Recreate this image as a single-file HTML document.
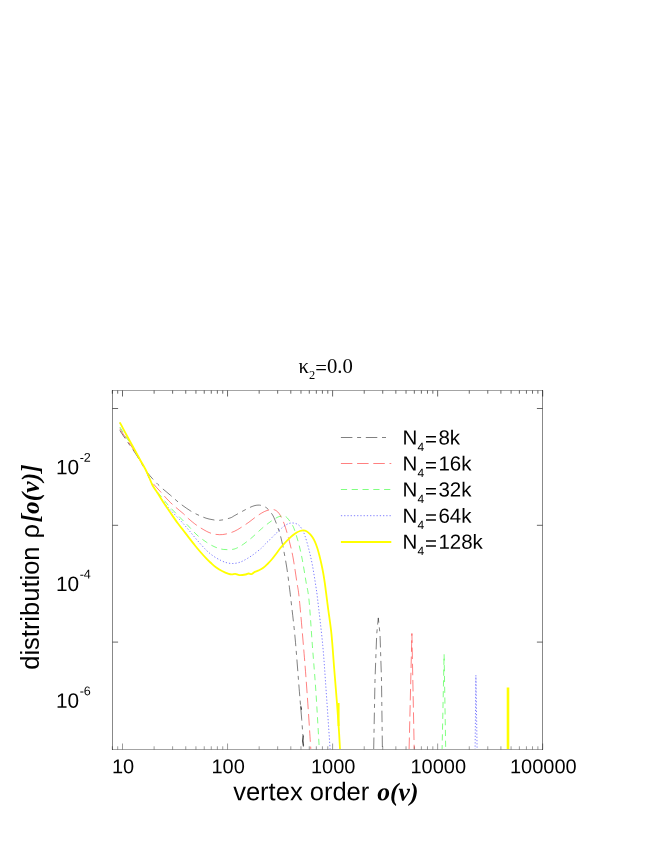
<!DOCTYPE html>
<html><head><meta charset="utf-8"><title>chart</title>
<style>
html,body{margin:0;padding:0;background:#fff;}
body{width:654px;height:846px;position:relative;overflow:hidden;font-family:"Liberation Sans",sans-serif;}
</style></head><body>
<svg width="654" height="846" viewBox="0 0 654 846" style="position:absolute;left:0;top:0">
<defs><clipPath id="cp"><rect x="112.50" y="390.50" width="430.00" height="359.00"/></clipPath></defs>
<path d="M112.32 390.50v3.20M117.69 390.50v3.20M122.50 390.50v6.00M154.12 390.50v3.20M172.62 390.50v3.20M185.75 390.50v3.20M195.93 390.50v3.20M204.24 390.50v3.20M211.28 390.50v3.20M217.37 390.50v3.20M222.74 390.50v3.20M227.55 390.50v6.00M259.17 390.50v3.20M277.67 390.50v3.20M290.80 390.50v3.20M300.98 390.50v3.20M309.29 390.50v3.20M316.33 390.50v3.20M322.42 390.50v3.20M327.79 390.50v3.20M332.60 390.50v6.00M364.22 390.50v3.20M382.72 390.50v3.20M395.85 390.50v3.20M406.03 390.50v3.20M414.34 390.50v3.20M421.38 390.50v3.20M427.47 390.50v3.20M432.84 390.50v3.20M437.65 390.50v6.00M469.27 390.50v3.20M487.77 390.50v3.20M500.90 390.50v3.20M511.08 390.50v3.20M519.39 390.50v3.20M526.43 390.50v3.20M532.52 390.50v3.20M537.89 390.50v3.20M542.70 390.50v6.00M112.50 408.50h5.6M542.50 408.50h-5.6M112.50 525.30h5.6M542.50 525.30h-5.6M112.50 642.10h5.6M542.50 642.10h-5.6" stroke="#000" stroke-width="0.6" fill="none"/>
<path d="M112.32 749.50v-3.20M117.69 749.50v-3.20M122.50 749.50v-6.00M154.12 749.50v-3.20M172.62 749.50v-3.20M185.75 749.50v-3.20M195.93 749.50v-3.20M204.24 749.50v-3.20M211.28 749.50v-3.20M217.37 749.50v-3.20M222.74 749.50v-3.20M227.55 749.50v-6.00M259.17 749.50v-3.20M277.67 749.50v-3.20M290.80 749.50v-3.20M300.98 749.50v-3.20M309.29 749.50v-3.20M316.33 749.50v-3.20M322.42 749.50v-3.20M327.79 749.50v-3.20M332.60 749.50v-6.00M364.22 749.50v-3.20M382.72 749.50v-3.20M395.85 749.50v-3.20M406.03 749.50v-3.20M414.34 749.50v-3.20M421.38 749.50v-3.20M427.47 749.50v-3.20M432.84 749.50v-3.20M437.65 749.50v-6.00M469.27 749.50v-3.20M487.77 749.50v-3.20M500.90 749.50v-3.20M511.08 749.50v-3.20M519.39 749.50v-3.20M526.43 749.50v-3.20M532.52 749.50v-3.20M537.89 749.50v-3.20M542.70 749.50v-6.00" stroke="#000" stroke-width="0.4" fill="none"/>
<path d="M112.50 390.50H542.50M112.50 749.50H542.50" stroke="#000" stroke-width="0.36" fill="none" stroke-linecap="square"/>
<path d="M112.50 390.50V749.50M542.50 390.50V749.50" stroke="#000" stroke-width="0.47" fill="none" stroke-linecap="square"/>
<g clip-path="url(#cp)" fill="none" stroke-linejoin="round">
<path d="M119.80 430.50 C120.92 432.17 124.17 437.08 126.50 440.50 C128.83 443.92 131.58 447.70 133.80 451.00 C136.02 454.30 137.65 456.85 139.80 460.30 C141.95 463.75 143.67 467.67 146.70 471.70 C149.73 475.73 154.03 480.57 158.00 484.50 C161.97 488.43 166.83 492.13 170.50 495.30 C174.17 498.47 176.63 500.88 180.00 503.50 C183.37 506.12 187.37 508.95 190.70 511.00 C194.03 513.05 196.95 514.47 200.00 515.80 C203.05 517.13 205.75 518.25 209.00 519.00 C212.25 519.75 216.00 520.47 219.50 520.30 C223.00 520.13 227.55 518.75 230.00 518.00 C232.45 517.25 232.20 516.88 234.20 515.80 C236.20 514.72 239.55 512.82 242.00 511.50 C244.45 510.18 246.90 508.85 248.90 507.90 C250.90 506.95 252.48 506.27 254.00 505.80 C255.52 505.33 256.67 505.13 258.00 505.10 C259.33 505.07 260.58 505.15 262.00 505.60 C263.42 506.05 265.17 506.82 266.50 507.80 C267.83 508.78 268.77 509.88 270.00 511.50 C271.23 513.12 272.33 514.05 273.90 517.50 C275.47 520.95 277.88 527.30 279.40 532.20 C280.92 537.10 281.78 541.08 283.00 546.90 C284.22 552.72 285.63 560.38 286.70 567.10 C287.77 573.82 288.62 581.05 289.40 587.20 C290.18 593.35 290.43 595.37 291.40 604.00 C292.37 612.63 293.87 624.38 295.20 639.00 C296.53 653.62 298.32 678.32 299.40 691.70 C300.48 705.08 300.98 710.12 301.70 719.30 C302.42 728.48 303.37 742.22 303.70 746.80" stroke="#000" stroke-width="0.50" stroke-dasharray="11.5 4.7 4 4.7" stroke-dashoffset="2"/>
<path d="M373.70 749.00 L375.00 680.00 L376.70 634.40 L378.30 617.90 L380.00 634.00 L381.50 680.00 L382.40 749.00" stroke="#000" stroke-width="0.50" stroke-dasharray="11.5 4.7 4 4.7"/>
<path d="M119.80 428.80 C120.92 430.50 124.17 435.47 126.50 439.00 C128.83 442.53 131.58 446.50 133.80 450.00 C136.02 453.50 137.80 456.62 139.80 460.00 C141.80 463.38 144.30 467.42 145.80 470.30 C147.30 473.18 147.68 475.22 148.80 477.30 C149.92 479.38 150.63 480.48 152.50 482.80 C154.37 485.12 157.30 488.20 160.00 491.20 C162.70 494.20 166.03 498.08 168.70 500.80 C171.37 503.52 173.55 505.35 176.00 507.50 C178.45 509.65 181.35 511.87 183.40 513.70 C185.45 515.53 186.03 516.53 188.30 518.50 C190.57 520.47 193.93 523.35 197.00 525.50 C200.07 527.65 204.03 530.02 206.70 531.40 C209.37 532.78 210.87 533.25 213.00 533.80 C215.13 534.35 217.33 534.67 219.50 534.70 C221.67 534.73 223.55 534.55 226.00 534.00 C228.45 533.45 231.70 532.48 234.20 531.40 C236.70 530.32 238.55 529.03 241.00 527.50 C243.45 525.97 246.57 523.87 248.90 522.20 C251.23 520.53 252.87 519.03 255.00 517.50 C257.13 515.97 259.70 514.17 261.70 513.00 C263.70 511.83 265.28 511.08 267.00 510.50 C268.72 509.92 270.50 509.50 272.00 509.50 C273.50 509.50 274.77 509.77 276.00 510.50 C277.23 511.23 278.40 512.48 279.40 513.90 C280.40 515.32 281.08 517.02 282.00 519.00 C282.92 520.98 283.67 522.07 284.90 525.80 C286.13 529.53 288.03 536.05 289.40 541.40 C290.77 546.75 291.87 551.18 293.10 557.90 C294.33 564.62 295.75 574.68 296.80 581.70 C297.85 588.72 298.13 587.40 299.40 600.00 C300.67 612.60 303.00 640.10 304.40 657.30 C305.80 674.50 306.73 687.92 307.80 703.20 C308.87 718.48 310.30 741.37 310.80 749.00" stroke="#f00" stroke-width="0.50" stroke-dasharray="11.5 4.7"/>
<path d="M409.10 749.00 L411.90 633.50 L414.20 749.00" stroke="#f00" stroke-width="0.50" stroke-dasharray="11.5 4.7"/>
<path d="M119.80 427.00 C120.92 428.75 124.17 433.83 126.50 437.50 C128.83 441.17 131.58 445.38 133.80 449.00 C136.02 452.62 137.80 455.70 139.80 459.20 C141.80 462.70 144.23 466.95 145.80 470.00 C147.37 473.05 148.10 475.00 149.20 477.50 C150.30 480.00 151.02 482.58 152.40 485.00 C153.78 487.42 155.53 489.45 157.50 492.00 C159.47 494.55 162.12 497.77 164.20 500.30 C166.28 502.83 167.37 504.33 170.00 507.20 C172.63 510.07 176.95 514.38 180.00 517.50 C183.05 520.62 185.47 522.98 188.30 525.90 C191.13 528.82 193.93 532.25 197.00 535.00 C200.07 537.75 203.70 540.40 206.70 542.40 C209.70 544.40 212.25 545.83 215.00 547.00 C217.75 548.17 220.30 549.00 223.20 549.40 C226.10 549.80 229.93 549.72 232.40 549.40 C234.87 549.08 236.17 548.37 238.00 547.50 C239.83 546.63 241.07 545.87 243.40 544.20 C245.73 542.53 248.95 540.10 252.00 537.50 C255.05 534.90 258.70 531.18 261.70 528.60 C264.70 526.02 267.45 523.85 270.00 522.00 C272.55 520.15 275.17 518.47 277.00 517.50 C278.83 516.53 279.85 516.45 281.00 516.20 C282.15 515.95 282.98 515.83 283.90 516.00 C284.82 516.17 285.73 516.63 286.50 517.20 C287.27 517.77 287.75 518.43 288.50 519.40 C289.25 520.37 290.08 521.48 291.00 523.00 C291.92 524.52 292.73 525.13 294.00 528.50 C295.27 531.87 297.22 538.00 298.60 543.20 C299.98 548.40 301.07 553.28 302.30 559.70 C303.53 566.12 304.88 574.98 306.00 581.70 C307.12 588.42 307.93 589.30 309.00 600.00 C310.07 610.70 311.25 630.62 312.40 645.90 C313.55 661.18 314.75 674.52 315.90 691.70 C317.05 708.88 318.73 739.45 319.30 749.00" stroke="#0f0" stroke-width="0.50" stroke-dasharray="6.2 4.6"/>
<path d="M442.10 749.00 L444.10 654.20 L445.70 749.00" stroke="#0f0" stroke-width="0.50" stroke-dasharray="6.2 4.6" stroke-dashoffset="2.3"/>
<path d="M119.80 422.80 C120.92 424.88 124.17 431.05 126.50 435.30 C128.83 439.55 131.58 444.32 133.80 448.30 C136.02 452.28 137.80 455.58 139.80 459.20 C141.80 462.82 144.23 466.95 145.80 470.00 C147.37 473.05 148.10 475.00 149.20 477.50 C150.30 480.00 151.07 482.50 152.40 485.00 C153.73 487.50 155.38 489.75 157.20 492.50 C159.02 495.25 161.17 498.65 163.30 501.50 C165.43 504.35 167.22 506.52 170.00 509.60 C172.78 512.68 176.95 516.68 180.00 520.00 C183.05 523.32 185.47 526.17 188.30 529.50 C191.13 532.83 193.93 536.48 197.00 540.00 C200.07 543.52 203.87 547.85 206.70 550.60 C209.53 553.35 211.55 554.82 214.00 556.50 C216.45 558.18 219.23 559.65 221.40 560.70 C223.57 561.75 225.17 562.33 227.00 562.80 C228.83 563.27 230.57 563.50 232.40 563.50 C234.23 563.50 236.17 563.27 238.00 562.80 C239.83 562.33 241.07 561.92 243.40 560.70 C245.73 559.48 248.95 557.63 252.00 555.50 C255.05 553.37 259.58 549.73 261.70 547.90 C263.82 546.07 263.32 545.90 264.70 544.50 C266.08 543.10 267.95 541.50 270.00 539.50 C272.05 537.50 274.83 534.58 277.00 532.50 C279.17 530.42 281.33 528.37 283.00 527.00 C284.67 525.63 285.83 524.93 287.00 524.30 C288.17 523.67 288.98 523.42 290.00 523.20 C291.02 522.98 292.02 522.90 293.10 523.00 C294.18 523.10 295.43 523.33 296.50 523.80 C297.57 524.27 298.50 524.77 299.50 525.80 C300.50 526.83 301.58 528.32 302.50 530.00 C303.42 531.68 303.97 532.78 305.00 535.90 C306.03 539.02 307.47 543.82 308.70 548.70 C309.93 553.58 311.18 558.78 312.40 565.20 C313.62 571.62 315.12 581.40 316.00 587.20 C316.88 593.00 316.57 590.22 317.70 600.00 C318.83 609.78 321.38 630.62 322.80 645.90 C324.22 661.18 324.98 674.52 326.20 691.70 C327.42 708.88 329.45 739.45 330.10 749.00" stroke="#00f" stroke-width="0.50" stroke-dasharray="1.3 1.94"/>
<path d="M475.10 749.00 L475.90 675.30 L477.10 749.00" stroke="#00f" stroke-width="0.50" stroke-dasharray="1.3 1.94" stroke-dashoffset="0.97"/>
<path d="M119.80 422.30 C120.92 424.42 124.17 430.67 126.50 435.00 C128.83 439.33 131.58 444.27 133.80 448.30 C136.02 452.33 137.80 455.58 139.80 459.20 C141.80 462.82 144.23 466.95 145.80 470.00 C147.37 473.05 148.10 475.00 149.20 477.50 C150.30 480.00 151.07 482.50 152.40 485.00 C153.73 487.50 155.43 489.72 157.20 492.50 C158.97 495.28 160.82 498.37 163.00 501.70 C165.18 505.03 167.83 508.90 170.30 512.50 C172.77 516.10 175.62 520.30 177.80 523.30 C179.98 526.30 181.65 528.23 183.40 530.50 C185.15 532.77 186.37 534.40 188.30 536.90 C190.23 539.40 193.05 543.07 195.00 545.50 C196.95 547.93 198.05 549.27 200.00 551.50 C201.95 553.73 204.87 556.98 206.70 558.90 C208.53 560.82 209.47 561.62 211.00 563.00 C212.53 564.38 214.07 565.87 215.90 567.20 C217.73 568.53 219.87 569.88 222.00 571.00 C224.13 572.12 227.03 573.33 228.70 573.90 C230.37 574.47 230.90 574.42 232.00 574.40 C233.10 574.38 234.05 573.68 235.30 573.80 C236.55 573.92 237.78 574.98 239.50 575.10 C241.22 575.22 244.08 574.77 245.60 574.50 C247.12 574.23 247.58 573.57 248.60 573.50 C249.62 573.43 250.67 574.37 251.70 574.10 C252.73 573.83 253.58 572.53 254.80 571.90 C256.02 571.27 257.58 570.98 259.00 570.30 C260.42 569.62 261.88 568.85 263.30 567.80 C264.72 566.75 266.10 565.38 267.50 564.00 C268.90 562.62 270.28 561.17 271.70 559.50 C273.12 557.83 274.62 555.83 276.00 554.00 C277.38 552.17 278.67 550.20 280.00 548.50 C281.33 546.80 282.62 545.33 284.00 543.80 C285.38 542.27 286.88 540.68 288.30 539.30 C289.72 537.92 291.10 536.62 292.50 535.50 C293.90 534.38 295.45 533.35 296.70 532.60 C297.95 531.85 298.90 531.37 300.00 531.00 C301.10 530.63 302.22 530.35 303.30 530.40 C304.38 530.45 305.38 530.67 306.50 531.30 C307.62 531.93 309.00 533.20 310.00 534.20 C311.00 535.20 311.67 536.03 312.50 537.30 C313.33 538.57 314.20 540.02 315.00 541.80 C315.80 543.58 316.57 545.72 317.30 548.00 C318.03 550.28 318.72 552.83 319.40 555.50 C320.08 558.17 320.75 561.00 321.40 564.00 C322.05 567.00 322.73 570.33 323.30 573.50 C323.87 576.67 324.33 579.78 324.80 583.00 C325.27 586.22 325.70 589.72 326.10 592.80 C326.50 595.88 326.83 598.63 327.20 601.50 C327.57 604.37 327.58 604.52 328.30 610.00 C329.02 615.48 330.52 624.60 331.50 634.40 C332.48 644.20 333.28 657.33 334.20 668.80 C335.12 680.27 336.23 693.27 337.00 703.20 C337.77 713.13 338.30 720.77 338.80 728.40 C339.30 736.03 339.80 745.57 340.00 749.00" stroke="#ff0" stroke-width="1.8"/>
<path d="M300.8 705.8L301.3 709.6L300.9 707.2M303.4 735.5L302.5 741L303.4 746.5" stroke="#000" stroke-width="0.7"/>
<path d="M338.6 703V726" stroke="#ff0" stroke-width="2"/>
<path d="M508 687.6V749" stroke="#ff0" stroke-width="2.6"/>
</g>
<g fill="none">
<path d="M340.9 437.5H386.2" stroke="#000" stroke-width="0.50" stroke-dasharray="11.5 4.7 4 4.7"/>
<path d="M340.9 463.5H391.3" stroke="#f00" stroke-width="0.50" stroke-dasharray="11.5 4.7"/>
<path d="M340.9 489.5H391.3" stroke="#0f0" stroke-width="0.50" stroke-dasharray="6.2 4.6"/>
<path d="M340.9 515.7H391.3" stroke="#00f" stroke-width="0.50" stroke-dasharray="1.3 1.94"/>
<path d="M340.9 542H391.3" stroke="#ff0" stroke-width="2.2"/>
</g>
<g opacity="0.999" fill="#000">
<text x="123.10" y="773.30" font-size="20.00" text-anchor="middle" font-family="Liberation Sans, sans-serif" transform="rotate(0.030 123.10 773.30)">10</text>
<text x="228.15" y="773.30" font-size="20.00" text-anchor="middle" font-family="Liberation Sans, sans-serif" transform="rotate(0.030 228.15 773.30)">100</text>
<text x="333.20" y="773.30" font-size="20.00" text-anchor="middle" font-family="Liberation Sans, sans-serif" transform="rotate(0.030 333.20 773.30)">1000</text>
<text x="438.25" y="773.30" font-size="20.00" text-anchor="middle" font-family="Liberation Sans, sans-serif" transform="rotate(0.030 438.25 773.30)">10000</text>
<text x="543.30" y="773.30" font-size="20.00" text-anchor="middle" font-family="Liberation Sans, sans-serif" transform="rotate(0.030 543.30 773.30)">100000</text>
<text x="56.00" y="474.20" font-size="20.80" font-family="Liberation Sans, sans-serif" transform="rotate(0.030 56.00 474.20)">10<tspan font-size="12.6" dy="-12.5" dx="0.5">-2</tspan></text>
<text x="56.00" y="591.00" font-size="20.80" font-family="Liberation Sans, sans-serif" transform="rotate(0.030 56.00 591.00)">10<tspan font-size="12.6" dy="-12.5" dx="0.5">-4</tspan></text>
<text x="56.00" y="707.80" font-size="20.80" font-family="Liberation Sans, sans-serif" transform="rotate(0.030 56.00 707.80)">10<tspan font-size="12.6" dy="-12.5" dx="0.5">-6</tspan></text>
<text x="402.40" y="444.50" font-size="20.50" font-family="Liberation Sans, sans-serif" transform="rotate(0.030 402.40 444.50)">N<tspan font-size="12" dy="6.4" dx="0.4">4</tspan><tspan dy="-4.9" dx="0.6">=</tspan><tspan dx="1.5" dy="-1.5">8k</tspan></text>
<text x="402.40" y="470.55" font-size="20.50" font-family="Liberation Sans, sans-serif" transform="rotate(0.030 402.40 470.55)">N<tspan font-size="12" dy="6.4" dx="0.4">4</tspan><tspan dy="-4.9" dx="0.6">=</tspan><tspan dx="1.5" dy="-1.5">16k</tspan></text>
<text x="402.40" y="496.60" font-size="20.50" font-family="Liberation Sans, sans-serif" transform="rotate(0.030 402.40 496.60)">N<tspan font-size="12" dy="6.4" dx="0.4">4</tspan><tspan dy="-4.9" dx="0.6">=</tspan><tspan dx="1.5" dy="-1.5">32k</tspan></text>
<text x="402.40" y="522.65" font-size="20.50" font-family="Liberation Sans, sans-serif" transform="rotate(0.030 402.40 522.65)">N<tspan font-size="12" dy="6.4" dx="0.4">4</tspan><tspan dy="-4.9" dx="0.6">=</tspan><tspan dx="1.5" dy="-1.5">64k</tspan></text>
<text x="402.40" y="548.70" font-size="20.50" font-family="Liberation Sans, sans-serif" transform="rotate(0.030 402.40 548.70)">N<tspan font-size="12" dy="6.4" dx="0.4">4</tspan><tspan dy="-4.9" dx="0.6">=</tspan><tspan dx="1.5" dy="-1.5">128k</tspan></text>
<text x="298.60" y="373.30" font-size="20.70" font-family="Liberation Serif, serif" transform="rotate(0.030 298.60 373.30)">&#954;<tspan font-size="12.4" dy="5.2">2</tspan><tspan dy="-3.7">=</tspan><tspan dy="-1.5">0.0</tspan></text>
<text x="233.20" y="800.30" font-size="25.50" font-family="Liberation Sans, sans-serif" transform="rotate(0.030 233.20 800.30)">vertex order <tspan font-family="Liberation Serif, serif" font-weight="bold" font-style="italic" dx="1">o(v)</tspan></text>
<text transform="translate(38.6 669.8) rotate(-90)" font-size="25.5" font-family="Liberation Sans, sans-serif">distribution <tspan dx="1">&#961;</tspan><tspan font-family="Liberation Serif, serif" font-weight="bold" font-style="italic" dx="1.5">[o(v)]</tspan></text>
</g>
</svg>
</body></html>
